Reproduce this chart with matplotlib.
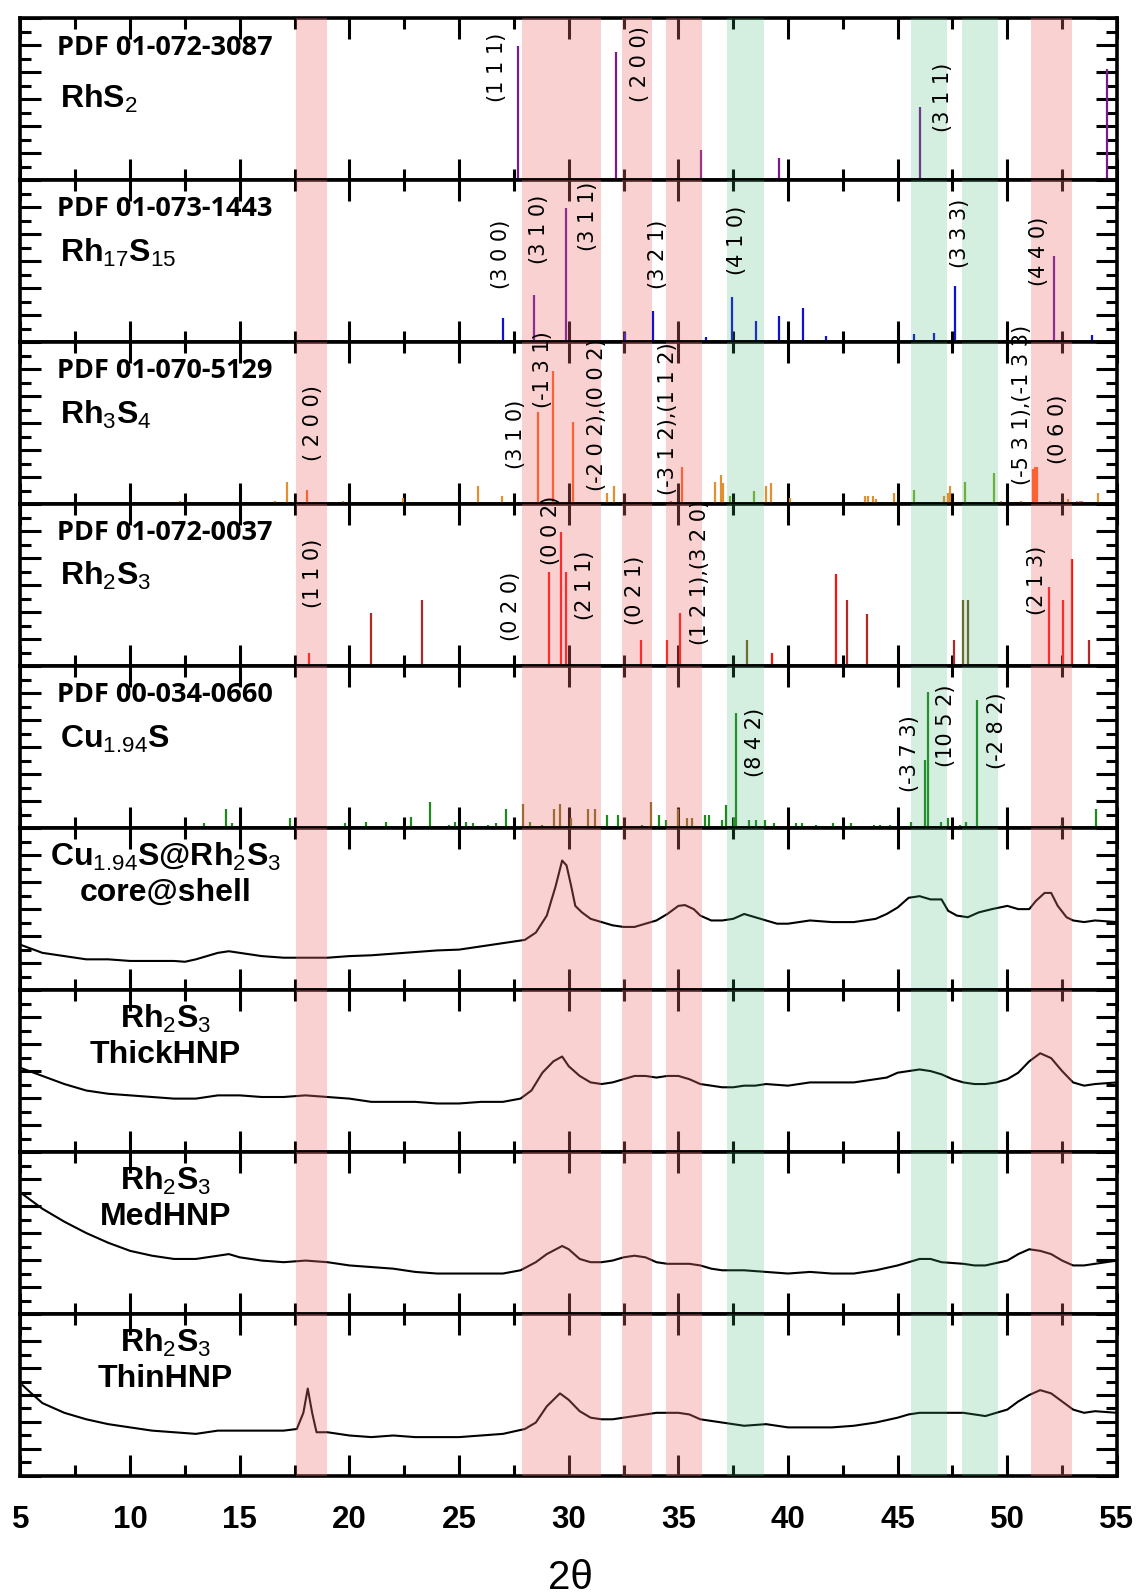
import numpy as np
import matplotlib
matplotlib.use("Agg")
import matplotlib.pyplot as plt
from matplotlib.ticker import MultipleLocator

plt.rcParams["mathtext.fontset"] = "custom"
plt.rcParams["mathtext.rm"] = "Liberation Sans"
plt.rcParams["mathtext.it"] = "Liberation Sans:italic"
plt.rcParams["mathtext.bf"] = "Liberation Sans:bold"

# ---------------------------------------------------------------- reference sticks
# RhS2  PDF 01-072-3087
rhs2_pos = [27.7, 32.15, 36.04, 39.6, 46.03, 54.55]
rhs2_int = [0.83, 0.79, 0.19, 0.14, 0.45, 0.69]

# Rh17S15  PDF 01-073-1443
rh17_blue_pos = [8.9, 12.6, 15.5, 20.0, 22.0, 27.0, 32.56, 33.84, 36.24, 37.44, 38.52,
                 39.6, 40.69, 41.74, 42.77, 45.73, 46.67, 47.62, 53.84]
rh17_blue_int = [0.01, 0.01, 0.01, 0.01, 0.01, 0.15, 0.06, 0.19, 0.03, 0.28, 0.13,
                 0.16, 0.21, 0.04, 0.015, 0.05, 0.06, 0.35, 0.045]
rh17_purple_pos = [28.43, 29.87, 52.13]
rh17_purple_int = [0.29, 0.83, 0.53]

# Rh3S4  PDF 01-070-5129
rh3s4_main_pos = [18.08, 28.59, 29.27, 30.18, 34.65, 35.18, 51.17, 51.28, 51.37]
rh3s4_main_int = [0.09, 0.57, 0.82, 0.51, 0.02, 0.23, 0.22, 0.23, 0.23]
rh3s4_tan_pos = [12.28, 16.62, 17.15, 19.72, 21.46, 22.45, 25.86, 26.69, 26.94, 31.74,
                 32.06, 33.6, 36.67, 36.95, 37.05, 39.01, 39.24, 40.08, 42.81, 43.5,
                 43.65, 43.88, 44.03, 44.82, 45.17, 46.73, 47.11, 47.29, 47.37, 49.73,
                 50.61, 50.84, 51.93, 52.77, 53.2, 53.3, 53.4, 54.13, 54.9]
rh3s4_tan_int = [0.02, 0.02, 0.14, 0.02, 0.01, 0.04, 0.11, 0.01, 0.05, 0.07,
                 0.11, 0.01, 0.14, 0.18, 0.13, 0.11, 0.13, 0.04, 0.01, 0.05,
                 0.05, 0.05, 0.03, 0.07, 0.01, 0.01, 0.05, 0.07, 0.11, 0.02,
                 0.02, 0.01, 0.02, 0.03, 0.02, 0.02, 0.02, 0.07, 0.01]
rh3s4_green_pos = [37.35, 38.44, 45.73, 48.09, 49.38]
rh3s4_green_int = [0.05, 0.08, 0.09, 0.14, 0.19]

# Rh2S3  PDF 01-072-0037
rh2s3_red_pos = [18.16, 29.09, 29.67, 29.89, 33.29, 34.48, 35.08, 39.27, 42.17,
                 51.9, 52.54, 52.95]
rh2s3_red_int = [0.08, 0.58, 0.83, 0.58, 0.16, 0.16, 0.33, 0.08, 0.57,
                 0.49, 0.41, 0.66]
rh2s3_dark_pos = [21.0, 23.3, 42.71, 43.6, 47.57, 53.72]
rh2s3_dark_int = [0.33, 0.41, 0.41, 0.32, 0.16, 0.16]
rh2s3_olive_pos = [38.14, 47.98, 48.22]
rh2s3_olive_int = [0.16, 0.41, 0.41]

# Cu1.94S  PDF 00-034-0660
cu_green_pos = [13.39, 14.35, 14.65, 17.28, 19.82, 20.76, 21.67, 22.8, 23.69, 24.52,
                24.82, 25.31, 25.65, 26.31, 26.67, 27.14, 28.25, 28.76, 31.76, 32.25,
                33.32, 34.11, 34.42, 36.23, 36.4, 36.99, 37.19, 37.52, 37.63, 38.21,
                38.54, 38.95, 39.36, 40.35, 40.64, 41.27, 42.04, 42.86, 43.9, 44.18,
                44.67, 45.61, 46.23, 46.4, 46.97, 47.3, 47.84, 48.12, 48.61, 52.47, 54.03]
cu_green_int = [0.03, 0.12, 0.03, 0.06, 0.03, 0.04, 0.04, 0.07, 0.16, 0.02,
                0.04, 0.04, 0.03, 0.02, 0.03, 0.12, 0.04, 0.02, 0.08, 0.08,
                0.02, 0.08, 0.05, 0.08, 0.08, 0.05, 0.14, 0.06, 0.71, 0.05,
                0.05, 0.05, 0.03, 0.03, 0.03, 0.02, 0.03, 0.03, 0.02, 0.02,
                0.02, 0.04, 0.42, 0.84, 0.04, 0.06, 0.02, 0.04, 0.79, 0.02, 0.12]
cu_olive_pos = [27.93, 29.32, 29.62, 30.1, 30.9, 31.22, 33.77, 35.0, 35.41, 35.62]
cu_olive_int = [0.15, 0.12, 0.15, 0.06, 0.12, 0.12, 0.16, 0.12, 0.06, 0.06]

# ---------------------------------------------------------------- measured patterns
core_x = [5, 6, 7, 8, 9, 10, 11, 12, 12.5, 13, 14, 14.5, 15, 16, 17, 18, 19, 20, 21, 22,
          23, 24, 25, 26, 27, 28, 28.5, 29, 29.4, 29.7, 29.9, 30.1, 30.3, 30.6, 31, 31.5,
          32, 32.5, 33, 33.5, 34, 34.5, 35, 35.3, 35.7, 36, 36.5, 37, 37.5, 38, 38.5, 39,
          39.5, 40, 41, 42, 43, 44, 44.5, 45, 45.5, 46, 46.5, 47, 47.3, 47.7, 48.2, 48.7,
          49.3, 50, 50.5, 51, 51.3, 51.7, 52, 52.3, 52.7, 53, 53.5, 54, 55]
core_y = [0.28, 0.23, 0.21, 0.19, 0.19, 0.18, 0.18, 0.18, 0.175, 0.19, 0.23, 0.24, 0.23,
          0.21, 0.20, 0.20, 0.20, 0.21, 0.215, 0.225, 0.235, 0.245, 0.25, 0.27, 0.29,
          0.31, 0.355, 0.46, 0.64, 0.80, 0.77, 0.65, 0.52, 0.48, 0.44, 0.42, 0.40, 0.39,
          0.39, 0.41, 0.43, 0.47, 0.52, 0.525, 0.50, 0.46, 0.43, 0.43, 0.44, 0.47, 0.45,
          0.43, 0.41, 0.41, 0.43, 0.42, 0.42, 0.44, 0.47, 0.51, 0.57, 0.58, 0.56, 0.56,
          0.49, 0.46, 0.45, 0.48, 0.50, 0.52, 0.50, 0.50, 0.55, 0.60, 0.60, 0.52, 0.45,
          0.43, 0.42, 0.43, 0.42]

thick_x = [5, 6, 7, 8, 9, 10, 11, 12, 13, 14, 15, 16, 17, 18, 19, 20, 21, 22, 23, 24, 25,
           26, 27, 27.8, 28.3, 28.8, 29.3, 29.7, 30, 30.5, 31, 31.5, 32, 32.5, 33, 33.5, 34,
           34.5, 35, 35.5, 36, 36.5, 37, 37.5, 38, 38.5, 39, 40, 41, 42, 43, 44, 44.5, 45,
           46, 46.5, 47, 47.5, 48, 48.5, 49, 49.5, 50, 50.5, 51, 51.5, 52, 52.5, 53, 53.5,
           54, 55]
thick_y = [0.52, 0.47, 0.42, 0.38, 0.36, 0.35, 0.34, 0.33, 0.33, 0.35, 0.35, 0.34, 0.34,
           0.35, 0.34, 0.33, 0.31, 0.31, 0.31, 0.30, 0.30, 0.31, 0.31, 0.33, 0.38, 0.49,
           0.56, 0.59, 0.53, 0.47, 0.43, 0.42, 0.43, 0.45, 0.47, 0.47, 0.46, 0.47, 0.47,
           0.45, 0.42, 0.41, 0.40, 0.40, 0.41, 0.41, 0.42, 0.41, 0.43, 0.43, 0.43, 0.45,
           0.46, 0.49, 0.51, 0.50, 0.48, 0.45, 0.43, 0.42, 0.42, 0.43, 0.45, 0.49, 0.56,
           0.61, 0.58, 0.50, 0.43, 0.41, 0.42, 0.43]

med_x = [5.1, 5.5, 6, 7, 8, 9, 10, 11, 12, 13, 14, 14.5, 15, 16, 17, 18, 19, 20, 21, 22,
         23, 24, 25, 26, 27, 27.8, 28.5, 29, 29.7, 30, 30.5, 31, 31.5, 32, 32.5, 33, 33.5,
         34, 34.5, 35, 35.5, 36, 36.5, 37, 38, 39, 40, 41, 42, 43, 44, 45, 45.5, 46, 46.5,
         47, 48, 48.5, 49, 50, 50.5, 51, 51.5, 52, 52.5, 53, 53.5, 54, 55]
med_y = [0.74, 0.70, 0.65, 0.57, 0.50, 0.44, 0.39, 0.36, 0.34, 0.34, 0.36, 0.37, 0.35,
         0.33, 0.32, 0.33, 0.32, 0.30, 0.29, 0.28, 0.26, 0.25, 0.25, 0.25, 0.25, 0.27,
         0.32, 0.37, 0.42, 0.40, 0.34, 0.32, 0.32, 0.33, 0.35, 0.36, 0.35, 0.32, 0.31,
         0.31, 0.31, 0.30, 0.28, 0.27, 0.27, 0.26, 0.25, 0.26, 0.25, 0.25, 0.27, 0.30,
         0.32, 0.34, 0.34, 0.32, 0.31, 0.30, 0.30, 0.33, 0.37, 0.40, 0.39, 0.37, 0.33,
         0.30, 0.30, 0.31, 0.33]

thin_x = [5.1, 5.5, 6, 7, 8, 9, 10, 11, 12, 13, 14, 15, 16, 17, 17.6, 17.9, 18.1, 18.3,
          18.5, 19, 20, 21, 22, 23, 24, 25, 26, 27, 28, 28.5, 29, 29.6, 30, 30.5, 31, 31.5,
          32, 32.5, 33, 33.5, 34, 34.5, 35, 35.5, 36, 36.5, 37, 37.5, 38, 39, 40, 41, 42,
          43, 44, 45, 45.5, 46, 46.5, 47, 47.5, 48, 48.5, 49, 49.5, 50, 50.5, 51, 51.5, 52,
          52.5, 53, 53.5, 54, 55]
thin_y = [0.56, 0.51, 0.45, 0.39, 0.35, 0.32, 0.30, 0.28, 0.27, 0.26, 0.28, 0.28, 0.28,
          0.28, 0.29, 0.39, 0.54, 0.39, 0.27, 0.27, 0.25, 0.24, 0.25, 0.24, 0.24, 0.24,
          0.25, 0.26, 0.29, 0.33, 0.43, 0.51, 0.47, 0.40, 0.36, 0.35, 0.35, 0.36, 0.37,
          0.38, 0.39, 0.39, 0.39, 0.38, 0.35, 0.34, 0.33, 0.32, 0.31, 0.32, 0.30, 0.30,
          0.30, 0.31, 0.33, 0.36, 0.38, 0.39, 0.39, 0.39, 0.39, 0.39, 0.38, 0.37, 0.39,
          0.41, 0.46, 0.50, 0.53, 0.51, 0.46, 0.41, 0.39, 0.40, 0.39]

# highlighted 2-theta windows
red_bands = [(17.57, 18.96), (27.88, 31.48), (32.42, 33.82), (34.43, 36.08), (51.08, 52.97)]
green_bands = [(37.23, 38.91), (45.6, 47.25), (47.92, 49.58)]

# ---------------------------------------------------------------- figure
fig = plt.figure(figsize=(11.38, 15.96), dpi=100)
gs = fig.add_gridspec(9, 1, left=0.018, right=0.9815, top=0.9885, bottom=0.0752, hspace=0)
axes = [fig.add_subplot(gs[i, 0]) for i in range(9)]

PURPLE = "#7a1a8c"
BLUE = "#1010d0"
ORANGE = "#ff5a1a"
TAN = "#e09030"
YGREEN = "#7ab030"
RED = "#ff1010"
DARKRED = "#b02828"
OLIVE = "#7a5a20"
GREEN = "#1c8a1c"
CUOLIVE = "#7a6a1a"

def sticks(ax, pos, inten, color):
    ax.vlines(pos, 0, inten, colors=color, lw=1.6, zorder=3)

sticks(axes[0], rhs2_pos, rhs2_int, PURPLE)
sticks(axes[1], rh17_blue_pos, rh17_blue_int, BLUE)
sticks(axes[1], rh17_purple_pos, rh17_purple_int, "#5a10a0")
sticks(axes[2], rh3s4_tan_pos, rh3s4_tan_int, TAN)
sticks(axes[2], rh3s4_green_pos, rh3s4_green_int, YGREEN)
sticks(axes[2], rh3s4_main_pos, rh3s4_main_int, ORANGE)
sticks(axes[3], rh2s3_dark_pos, rh2s3_dark_int, DARKRED)
sticks(axes[3], rh2s3_olive_pos, rh2s3_olive_int, OLIVE)
sticks(axes[3], rh2s3_red_pos, rh2s3_red_int, RED)
sticks(axes[4], cu_olive_pos, cu_olive_int, CUOLIVE)
sticks(axes[4], cu_green_pos, cu_green_int, GREEN)

for ax, xs, ys in zip(axes[5:], [core_x, thick_x, med_x, thin_x],
                      [core_y, thick_y, med_y, thin_y]):
    ax.plot(xs, ys, color="black", lw=1.5, zorder=3)

# ---------------------------------------------------------------- annotations
pdf_font = dict(family=["Open Sans", "DejaVu Sans"], weight="bold", fontsize=19.5)
name_font = dict(family="Liberation Sans", weight="bold", fontsize=23)
hkl_font = dict(family="DejaVu Sans", fontsize=15, rotation=90, ha="center", va="center")

ref_cards = ["PDF 01-072-3087", "PDF 01-073-1443", "PDF 01-070-5129",
             "PDF 01-072-0037", "PDF 00-034-0660"]
ref_names = ["RhS$_2$", "Rh$_{17}$S$_{15}$", "Rh$_3$S$_4$", "Rh$_2$S$_3$", "Cu$_{1.94}$S"]
name_y = [0.50, 0.55, 0.55, 0.56, 0.55]
for ax, card, name, ny in zip(axes[:5], ref_cards, ref_names, name_y):
    ax.text(6.65, 0.82, card, transform=ax.get_xaxis_transform(), va="center", **pdf_font)
    ax.text(6.8, ny, name, transform=ax.get_xaxis_transform(), va="center", **name_font)

sample_top = ["Cu$_{1.94}$S@Rh$_2$S$_3$", "Rh$_2$S$_3$", "Rh$_2$S$_3$", "Rh$_2$S$_3$"]
sample_bot = ["core@shell", "ThickHNP", "MedHNP", "ThinHNP"]
for ax, t1, t2 in zip(axes[5:], sample_top, sample_bot):
    ax.text(11.6, 0.82, t1, transform=ax.get_xaxis_transform(), ha="center", va="center", **name_font)
    ax.text(11.6, 0.60, t2, transform=ax.get_xaxis_transform(), ha="center", va="center", **name_font)

hkl_labels = [
    [("(1 1 1)", 26.72, 0.70), ("( 2 0 0)", 33.26, 0.72), ("(3 1 1)", 47.05, 0.51)],
    [("(3 0 0)", 26.89, 0.54), ("(3 1 0)", 28.63, 0.70), ("(3 1 1)", 30.87, 0.78),
     ("(3 2 1)", 34.08, 0.54), ("(4 1 0)", 37.69, 0.63), ("(3 3 3)", 47.85, 0.67),
     ("(4 4 0)", 51.46, 0.56)],
    [("( 2 0 0)", 18.32, 0.50), ("(3 1 0)", 27.58, 0.43), ("(-1 3 1)", 28.82, 0.83),
     ("(-2 0 2),(0 0 2)", 31.29, 0.55), ("(-3 1 2),(1 1 2)", 34.55, 0.53),
     ("(-5 3 1),(-1 3 3)", 50.66, 0.61), ("(0 6 0)", 52.31, 0.46)],
    [("(1 1 0)", 18.32, 0.57), ("(0 2 0)", 27.35, 0.37), ("(0 0 2)", 29.17, 0.84),
     ("(2 1 1)", 30.76, 0.50), ("(0 2 1)", 33.03, 0.47), ("(1 2 1),(3 2 0)", 35.98, 0.58),
     ("(2 1 3)", 51.37, 0.53)],
    [("(8 4 2)", 38.5, 0.53), ("(-3 7 3)", 45.58, 0.46), ("(10 5 2)", 47.22, 0.63),
     ("(-2 8 2)", 49.52, 0.60)],
]
for ax, labels in zip(axes[:5], hkl_labels):
    for txt, x, y in labels:
        ax.text(x, y, txt, transform=ax.get_xaxis_transform(), clip_on=False, zorder=6, **hkl_font)

# ---------------------------------------------------------------- axes styling
for i, ax in enumerate(axes):
    ax.set_xlim(5, 55)
    ax.set_ylim(0, 1)
    for lo, hi in red_bands:
        ax.axvspan(lo, hi, color="#f07070", alpha=0.32, lw=0, zorder=5)
    for lo, hi in green_bands:
        ax.axvspan(lo, hi, color="#3cb371", alpha=0.22, lw=0, zorder=5)
    ax.xaxis.set_major_locator(MultipleLocator(5))
    ax.xaxis.set_minor_locator(MultipleLocator(2.5))
    ax.yaxis.set_major_locator(MultipleLocator(1 / 6))
    ax.yaxis.set_minor_locator(MultipleLocator(1 / 12))
    ax.tick_params(which="both", direction="in", top=True, bottom=True, left=True, right=True,
                   labelleft=False, width=2.2)
    ax.tick_params(which="major", length=15)
    ax.tick_params(which="minor", length=8)
    for sp in ax.spines.values():
        sp.set_linewidth(2.6)
    if i < 8:
        ax.tick_params(labelbottom=False)
    else:
        ax.tick_params(axis="x", pad=21)
        for lab in ax.get_xticklabels():
            lab.set_fontfamily("Liberation Sans")
            lab.set_fontweight("bold")
            lab.set_fontsize(22.5)

fig.text(0.501, 0.0113, "2θ", ha="center", va="center", family="Liberation Sans", fontsize=29)

plt.savefig("out.png", dpi=100)
